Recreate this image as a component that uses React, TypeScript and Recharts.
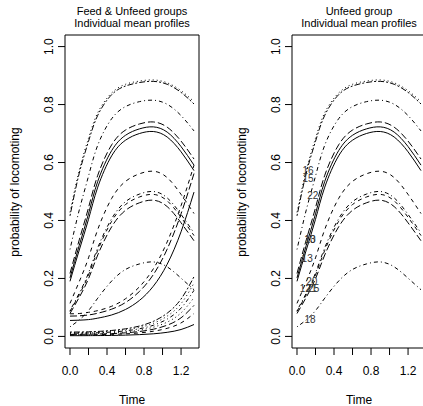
import React from 'react';
import { ComposedChart, Line, Scatter, XAxis, YAxis, ReferenceArea } from 'recharts';

// time grid the profiles were read at
const times = [0, 0.1, 0.2, 0.3, 0.45, 0.6, 0.75, 0.9, 1.05, 1.2, 1.34];

// Unfeed group profiles (peak near t = 0.9)
const u16 = [0.428, 0.574, 0.684, 0.772, 0.84, 0.87, 0.881, 0.885, 0.875, 0.848, 0.81];
const u15 = [0.416, 0.563, 0.673, 0.763, 0.834, 0.864, 0.876, 0.88, 0.87, 0.842, 0.802];
const u22 = [0.3, 0.436, 0.553, 0.66, 0.751, 0.793, 0.81, 0.815, 0.801, 0.762, 0.709];
const u10 = [0.217, 0.333, 0.444, 0.556, 0.661, 0.712, 0.733, 0.74, 0.722, 0.674, 0.612];
const u13 = [0.202, 0.314, 0.423, 0.535, 0.641, 0.694, 0.716, 0.723, 0.705, 0.655, 0.591];
const u23 = [0.19, 0.298, 0.404, 0.515, 0.623, 0.677, 0.7, 0.707, 0.688, 0.637, 0.572];
const u12 = [0.114, 0.189, 0.271, 0.369, 0.476, 0.535, 0.561, 0.57, 0.548, 0.49, 0.424];
const u20 = [0.089, 0.149, 0.219, 0.306, 0.406, 0.465, 0.491, 0.5, 0.478, 0.421, 0.357];
const u21 = [0.086, 0.144, 0.212, 0.297, 0.397, 0.455, 0.481, 0.49, 0.468, 0.411, 0.348];
const u25 = [0.079, 0.135, 0.199, 0.281, 0.378, 0.435, 0.461, 0.47, 0.448, 0.392, 0.33];
const u18 = [0.033, 0.057, 0.089, 0.132, 0.191, 0.231, 0.25, 0.257, 0.24, 0.201, 0.161];

// Feed group profiles (rising)
const f1 = [0.055, 0.056, 0.058, 0.063, 0.074, 0.093, 0.124, 0.173, 0.249, 0.361, 0.498];
const f2 = [0.07, 0.071, 0.074, 0.08, 0.094, 0.117, 0.155, 0.213, 0.301, 0.423, 0.562];
const f3 = [0.078, 0.079, 0.083, 0.089, 0.104, 0.13, 0.171, 0.233, 0.326, 0.451, 0.591];
const f4 = [0.0025, 0.0025, 0.0027, 0.0029, 0.0034, 0.0044, 0.0061, 0.0089, 0.0141, 0.0238, 0.041];
const f5 = [0.005, 0.0051, 0.0053, 0.0058, 0.0069, 0.0088, 0.0121, 0.0178, 0.0279, 0.0466, 0.079];
const f6 = [0.007, 0.0071, 0.0075, 0.0081, 0.0096, 0.0123, 0.0169, 0.0247, 0.0387, 0.0642, 0.107];
const f7 = [0.009, 0.0091, 0.0096, 0.0104, 0.0124, 0.0158, 0.0216, 0.0317, 0.0493, 0.0812, 0.134];
const f8 = [0.011, 0.0112, 0.0117, 0.0127, 0.0151, 0.0193, 0.0263, 0.0384, 0.0597, 0.0976, 0.159];
const f9 = [0.013, 0.0132, 0.0138, 0.015, 0.0178, 0.0227, 0.031, 0.0452, 0.0699, 0.113, 0.184];
const f10 = [0.015, 0.0152, 0.0159, 0.0172, 0.0205, 0.0262, 0.0357, 0.0519, 0.08, 0.129, 0.206];

// subject ids written on the right panel
const labelIds = ['16', '15', '22', '10', '13', '13', '12', '20', '21', '25', '18'];
const labelTimes = [0.12, 0.12, 0.17, 0.14, 0.14, 0.11, 0.09, 0.16, 0.155, 0.18, 0.14];
const labelProbs = [0.574, 0.545, 0.485, 0.336, 0.336, 0.27, 0.165, 0.19, 0.165, 0.165, 0.06];

const xTicks = [0, 0.2, 0.4, 0.6, 0.8, 1.0, 1.2];
const xTickLabels = ['0.0', '', '0.4', '', '0.8', '', '1.2'];
const yTicks = [0, 0.2, 0.4, 0.6, 0.8, 1.0];
const yTickLabels = ['0.0', '0.2', '0.4', '0.6', '0.8', '1.0'];

// R line types
const lty: Record<string, string | undefined> = {
  solid: undefined,
  dashed: '4 4',
  dotted: '1 3',
  dotdash: '1 3 4 3',
  longdash: '7 3',
  twodash: '2 2 6 2',
};

const unfeed = [
  { key: 'u16', values: u16, type: 'dotted' },
  { key: 'u15', values: u15, type: 'twodash' },
  { key: 'u22', values: u22, type: 'dotdash' },
  { key: 'u10', values: u10, type: 'longdash' },
  { key: 'u13', values: u13, type: 'solid' },
  { key: 'u23', values: u23, type: 'solid' },
  { key: 'u12', values: u12, type: 'dashed' },
  { key: 'u20', values: u20, type: 'dotdash' },
  { key: 'u21', values: u21, type: 'dashed' },
  { key: 'u25', values: u25, type: 'longdash' },
  { key: 'u18', values: u18, type: 'dotdash' },
];

const feed = [
  { key: 'f1', values: f1, type: 'solid' },
  { key: 'f2', values: f2, type: 'longdash' },
  { key: 'f3', values: f3, type: 'dashed' },
  { key: 'f4', values: f4, type: 'solid' },
  { key: 'f5', values: f5, type: 'dashed' },
  { key: 'f6', values: f6, type: 'longdash' },
  { key: 'f7', values: f7, type: 'dotted' },
  { key: 'f8', values: f8, type: 'dotdash' },
  { key: 'f9', values: f9, type: 'dotted' },
  { key: 'f10', values: f10, type: 'twodash' },
];

const allSeries = [...unfeed, ...feed];
const rows = times.map((t, i) => {
  const row: any = { t };
  allSeries.forEach((s) => (row[s.key] = s.values[i]));
  return row;
});
const labelRows = labelIds.map((id, i) => ({ t: labelTimes[i], v: labelProbs[i], id }));

const FONT = '"Liberation Sans", Arial, Helvetica, sans-serif';
const XMIN = -0.054;
const XMAX = 1.394;
const YMIN = -0.04;
const YMAX = 1.04;

const XTick = ({ x, y, index }: any) => (
  <text x={x} y={y + 18} textAnchor="middle" fontSize={12} fontFamily={FONT} fill="#000">
    {xTickLabels[index] ?? ''}
  </text>
);

const YTick = ({ x, y, index }: any) => (
  <text
    x={x - 2.5}
    y={y}
    transform={`rotate(-90, ${x - 2.5}, ${y})`}
    textAnchor="middle"
    fontSize={12}
    fontFamily={FONT}
    fill="#000"
  >
    {yTickLabels[index]}
  </text>
);

const IdLabel = (props: any) => (
  <text
    x={props.cx}
    y={props.cy}
    textAnchor="middle"
    dominantBaseline="central"
    fontSize={10}
    fontFamily={FONT}
    fill="#333"
  >
    {props.payload.id}
  </text>
);

const Panel = ({ left, title, series, showIds }: any) => {
  const cx = left + 132;
  return (
    <>
      <div
        style={{
          position: 'absolute',
          left: cx - 100,
          top: 5,
          width: 200,
          textAlign: 'center',
          fontSize: 11,
          lineHeight: '12.4px',
          fontFamily: FONT,
        }}
      >
        {title}
        <br />
        Individual mean profiles
      </div>
      <div
        style={{
          position: 'absolute',
          left: left + 15 - 150,
          top: 191.5 - 7,
          width: 300,
          height: 14,
          lineHeight: '14px',
          textAlign: 'center',
          fontSize: 12,
          fontFamily: FONT,
          transform: 'rotate(-90deg)',
        }}
      >
        probability of locomoting
      </div>
      <div
        style={{
          position: 'absolute',
          left: cx - 50,
          top: 393,
          width: 100,
          textAlign: 'center',
          fontSize: 12,
          lineHeight: '14px',
          fontFamily: FONT,
        }}
      >
        Time
      </div>
      <div style={{ position: 'absolute', left, top: 0 }}>
        <ComposedChart width={212} height={406} data={rows} margin={{ top: 35, right: 13, bottom: 0, left: 0 }}>
          <XAxis
            dataKey="t"
            type="number"
            domain={[XMIN, XMAX]}
            allowDataOverflow
            ticks={xTicks}
            interval={0}
            height={58}
            axisLine={false}
            tickSize={7}
            tickLine={{ stroke: '#000' }}
            tick={<XTick />}
          />
          <YAxis
            type="number"
            domain={[YMIN, YMAX]}
            allowDataOverflow
            ticks={yTicks}
            interval={0}
            width={65}
            axisLine={false}
            tickSize={7}
            tickLine={{ stroke: '#000' }}
            tick={<YTick />}
          />
          <ReferenceArea
            x1={XMIN}
            x2={XMAX}
            y1={YMIN}
            y2={YMAX}
            fill="none"
            stroke="#000"
            strokeWidth={1}
            ifOverflow="visible"
          />
          {series.map((s: any) => (
            <Line
              key={s.key}
              dataKey={s.key}
              type="natural"
              stroke="#000"
              strokeWidth={1}
              strokeDasharray={lty[s.type]}
              dot={false}
              activeDot={false}
              isAnimationActive={false}
            />
          ))}
          {showIds && (
            <Scatter data={labelRows} dataKey="v" shape={<IdLabel />} isAnimationActive={false} />
          )}
        </ComposedChart>
      </div>
    </>
  );
};

export default function App() {
  return (
    <div
      style={{
        position: 'absolute',
        left: 0,
        top: 0,
        width: 423,
        height: 406,
        overflow: 'hidden',
        background: '#fff',
      }}
    >
      <Panel left={0} title="Feed & Unfeed groups" series={allSeries} showIds={false} />
      <Panel left={227} title="Unfeed group" series={unfeed} showIds={true} />
    </div>
  );
}
